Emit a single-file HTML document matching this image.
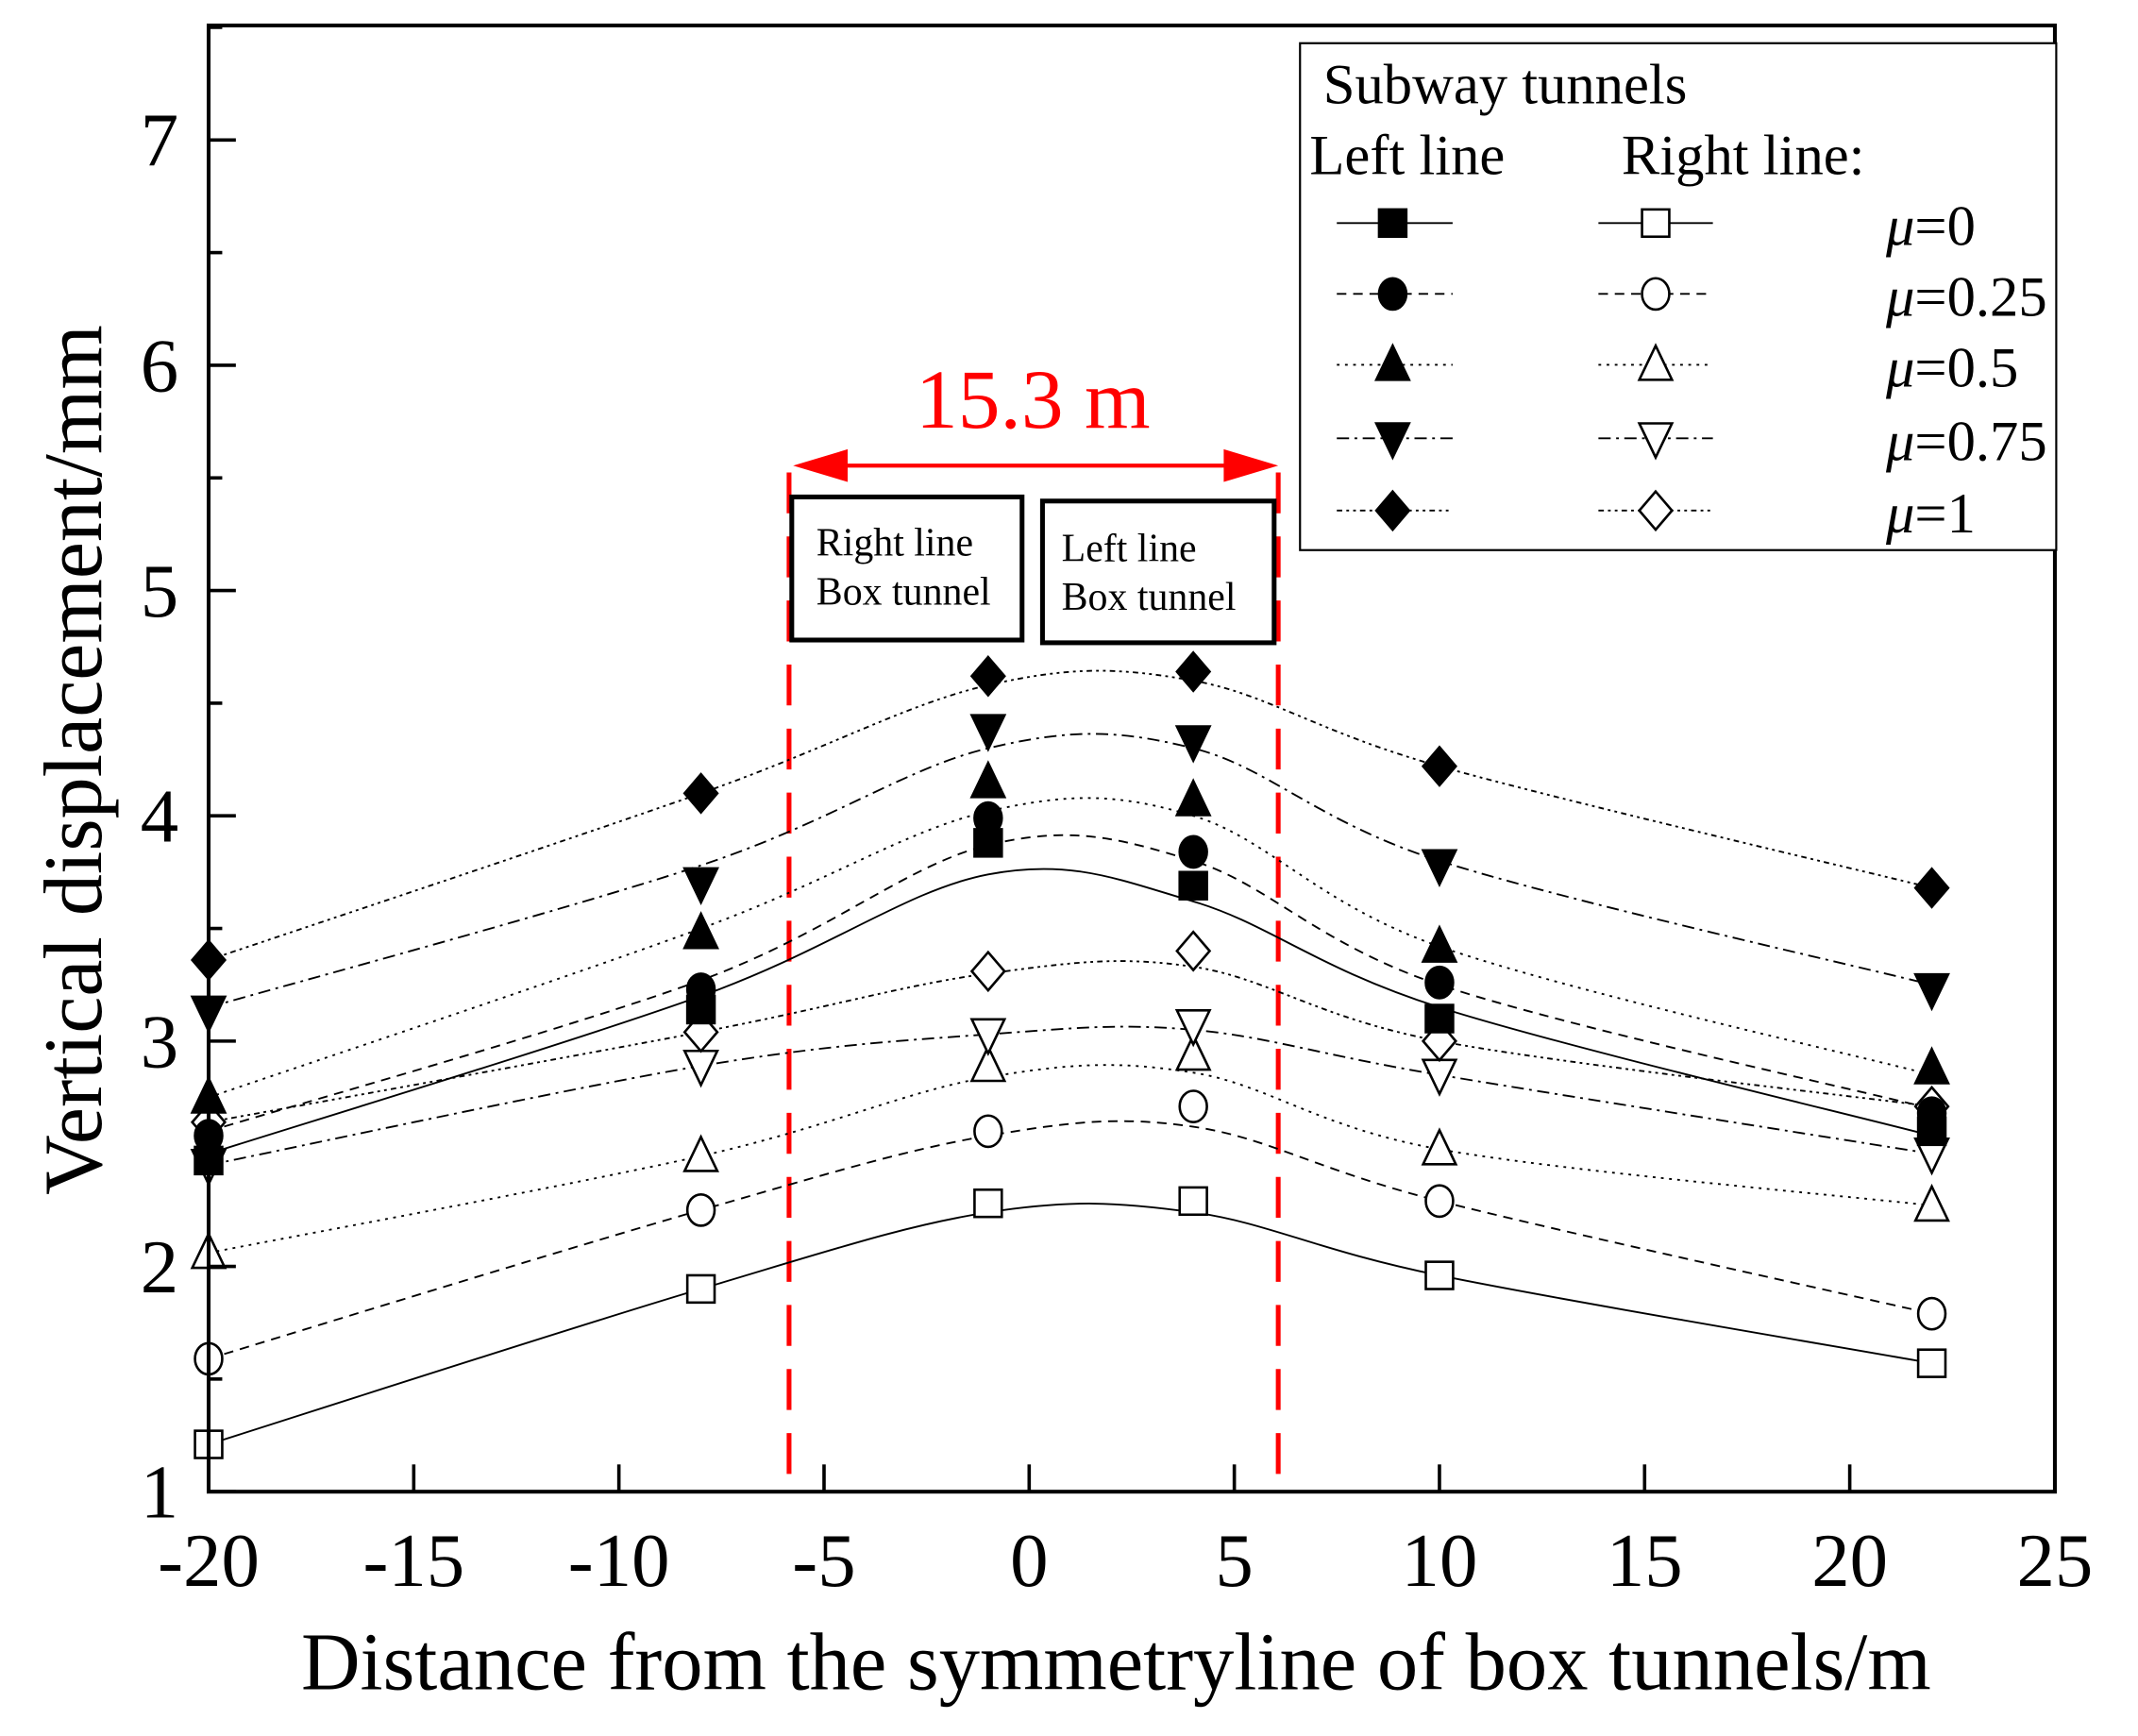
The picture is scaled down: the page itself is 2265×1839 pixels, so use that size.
<!DOCTYPE html>
<html><head><meta charset="utf-8"><style>
html,body{margin:0;padding:0;background:#fff;}
svg{display:block;}
text{font-family:"Liberation Serif",serif;}
</style></head><body>
<svg id="s" width="2265" height="1839" viewBox="-1.1 -1.7 1569.1 1274" preserveAspectRatio="none" xmlns="http://www.w3.org/2000/svg"></svg>
<script>
const X=v=>152+(v+20)*(1355/45);
const Y=v=>1093-(v-1)*165.33;
const xs=[-20,-8,-1,4,10,22];
const L=[[2.47,3.14,3.88,3.69,3.1,2.6],[2.58,3.23,3.99,3.84,3.26,2.68],[2.75,3.48,4.15,4.07,3.42,2.88],[3.13,3.7,4.38,4.33,3.78,3.23],[3.36,4.1,4.62,4.64,4.22,3.68]];
const R=[[1.21,1.9,2.28,2.29,1.96,1.57],[1.59,2.25,2.6,2.71,2.29,1.79],[2.06,2.49,2.89,2.94,2.52,2.27],[2.45,2.89,3.03,3.07,2.85,2.5],[2.64,3.04,3.31,3.4,3.0,2.71]];
const LC=[[2.5,3.2,3.74,3.62,3.15,2.58],[2.6,3.27,3.87,3.8,3.25,2.7],[2.75,3.5,4.02,4.0,3.42,2.85],[3.15,3.78,4.3,4.3,3.8,3.25],[3.36,4.1,4.58,4.6,4.22,3.68]];
const RC=[[1.21,1.9,2.24,2.24,1.96,1.57],[1.59,2.25,2.58,2.62,2.29,1.79],[2.06,2.49,2.84,2.86,2.52,2.27],[2.45,2.89,3.03,3.05,2.85,2.5],[2.64,3.04,3.3,3.33,3.0,2.71]];
const dash=['','7,5','2,4','9,4,2,4','4,3,2,3,2,3'];
const shapes=['sq','ci','tu','td','di'];
let o='';
o+=`<line x1="578" y1="345" x2="578" y2="1093" stroke="#f00" stroke-width="3.5" stroke-dasharray="30,17"/>`;
o+=`<line x1="937" y1="345" x2="937" y2="1093" stroke="#f00" stroke-width="3.5" stroke-dasharray="30,17"/>`;
function path(vals){
  const p=xs.map((x,i)=>[X(x),Y(vals[i])]);
  let d=`M${p[0][0]},${p[0][1]}`;
  for(let i=0;i<p.length-1;i++){
    const p0=p[Math.max(0,i-1)],p1=p[i],p2=p[i+1],p3=p[Math.min(p.length-1,i+2)];
    const c1=[p1[0]+(p2[0]-p0[0])/6,p1[1]+(p2[1]-p0[1])/6];
    const c2=[p2[0]-(p3[0]-p1[0])/6,p2[1]-(p3[1]-p1[1])/6];
    d+=` C${c1[0]},${c1[1]} ${c2[0]},${c2[1]} ${p2[0]},${p2[1]}`;
  }
  return d;
}
function mk(sh,x,y,fill){
  const f=fill?'#000':'#fff', s='stroke="#000" stroke-width="1.8"';
  const r=11;
  if(sh=='sq')return `<rect x="${x-r+1}" y="${y-r+1}" width="${2*r-2}" height="${2*r-2}" fill="${f}" ${s}/>`;
  if(sh=='ci')return `<ellipse cx="${x}" cy="${y}" rx="${r-1}" ry="${r+0.5}" fill="${f}" ${s}/>`;
  if(sh=='tu')return `<polygon points="${x},${y-r-3} ${x+r+1},${y+r} ${x-r-1},${y+r}" fill="${f}" ${s}/>`;
  if(sh=='td')return `<polygon points="${x},${y+r+3} ${x+r+1},${y-r} ${x-r-1},${y-r}" fill="${f}" ${s}/>`;
  return `<polygon points="${x},${y-r-3} ${x+r+1},${y} ${x},${y+r+3} ${x-r-1},${y}" fill="${f}" ${s}/>`;
}
for(let k=0;k<5;k++){
  o+=`<path d="${path(LC[k])}" fill="none" stroke="#000" stroke-width="1.3" stroke-dasharray="${dash[k]}"/>`;
  o+=`<path d="${path(RC[k])}" fill="none" stroke="#000" stroke-width="1.3" stroke-dasharray="${dash[k]}"/>`;
}
for(let k=0;k<5;k++){xs.forEach((x,i)=>{o+=mk(shapes[k],X(x),Y(R[k][i]),false);});}
for(let k=0;k<5;k++){xs.forEach((x,i)=>{o+=mk(shapes[k],X(x),Y(L[k][i]),true);});}
o+=`<rect x="580" y="363" width="169" height="105" fill="#fff" stroke="#000" stroke-width="3.5"/>`;
o+=`<rect x="764" y="366" width="170" height="104" fill="#fff" stroke="#000" stroke-width="3.5"/>`;
o+=`<text x="598" y="406" font-size="29">Right line</text><text x="598" y="442" font-size="29">Box tunnel</text>`;
o+=`<text x="778" y="410" font-size="29">Left line</text><text x="778" y="446" font-size="29">Box tunnel</text>`;
o+=`<line x1="595" y1="340" x2="922" y2="340" stroke="#f00" stroke-width="3"/>`;
o+=`<polygon points="581,340 621,328 621,352" fill="#f00"/><polygon points="937,340 897,328 897,352" fill="#f00"/>`;
o+=`<text x="757" y="312" font-size="62" fill="#f00" text-anchor="middle">15.3 m</text>`;
o+=`<rect x="152" y="17" width="1355" height="1076" fill="none" stroke="#000" stroke-width="2.8"/>`;
for(let v=-20;v<=25;v+=5){const x=X(v);o+=`<line x1="${x}" y1="1093" x2="${x}" y2="1073" stroke="#000" stroke-width="2.5"/>`;
 o+=`<text x="${x}" y="1162" font-size="56" text-anchor="middle">${v}</text>`;}
for(let v=1;v<=7.5;v+=0.5){const y=Y(v);const maj=Number.isInteger(v);o+=`<line x1="152" y1="${y}" x2="${152+(maj?20:10)}" y2="${y}" stroke="#000" stroke-width="2.5"/>`;
 if(maj)o+=`<text x="130" y="${y+19}" font-size="56" text-anchor="end">${v}</text>`;}
o+=`<text x="818" y="1238" font-size="60" text-anchor="middle">Distance from the symmetryline of box tunnels/m</text>`;
o+=`<text transform="translate(73,556) rotate(-90)" font-size="61" text-anchor="middle">Vertical displacement/mm</text>`;
o+=`<rect x="953" y="30" width="555" height="372" fill="#fff" stroke="#000" stroke-width="1.5"/>`;
o+=`<text x="970" y="74" font-size="42">Subway tunnels</text>`;
o+=`<text x="960" y="126" font-size="42">Left line</text><text x="1189" y="126" font-size="42">Right line:</text>`;
const labs=['0','0.25','0.5','0.75','1'];const rows=[162,214,266,320,373];
for(let k=0;k<5;k++){const y=rows[k];
 o+=`<line x1="980" y1="${y}" x2="1065" y2="${y}" stroke="#000" stroke-width="1.3" stroke-dasharray="${dash[k]}"/>`;
 o+=`<line x1="1172" y1="${y}" x2="1256" y2="${y}" stroke="#000" stroke-width="1.3" stroke-dasharray="${dash[k]}"/>`;
 o+=mk(shapes[k],1021,y,true)+mk(shapes[k],1214,y,false);
 o+=`<text x="1383" y="${y+16}" font-size="42"><tspan font-style="italic">μ</tspan>=${labs[k]}</text>`;}
document.getElementById('s').innerHTML=o;
</script>
</body></html>
